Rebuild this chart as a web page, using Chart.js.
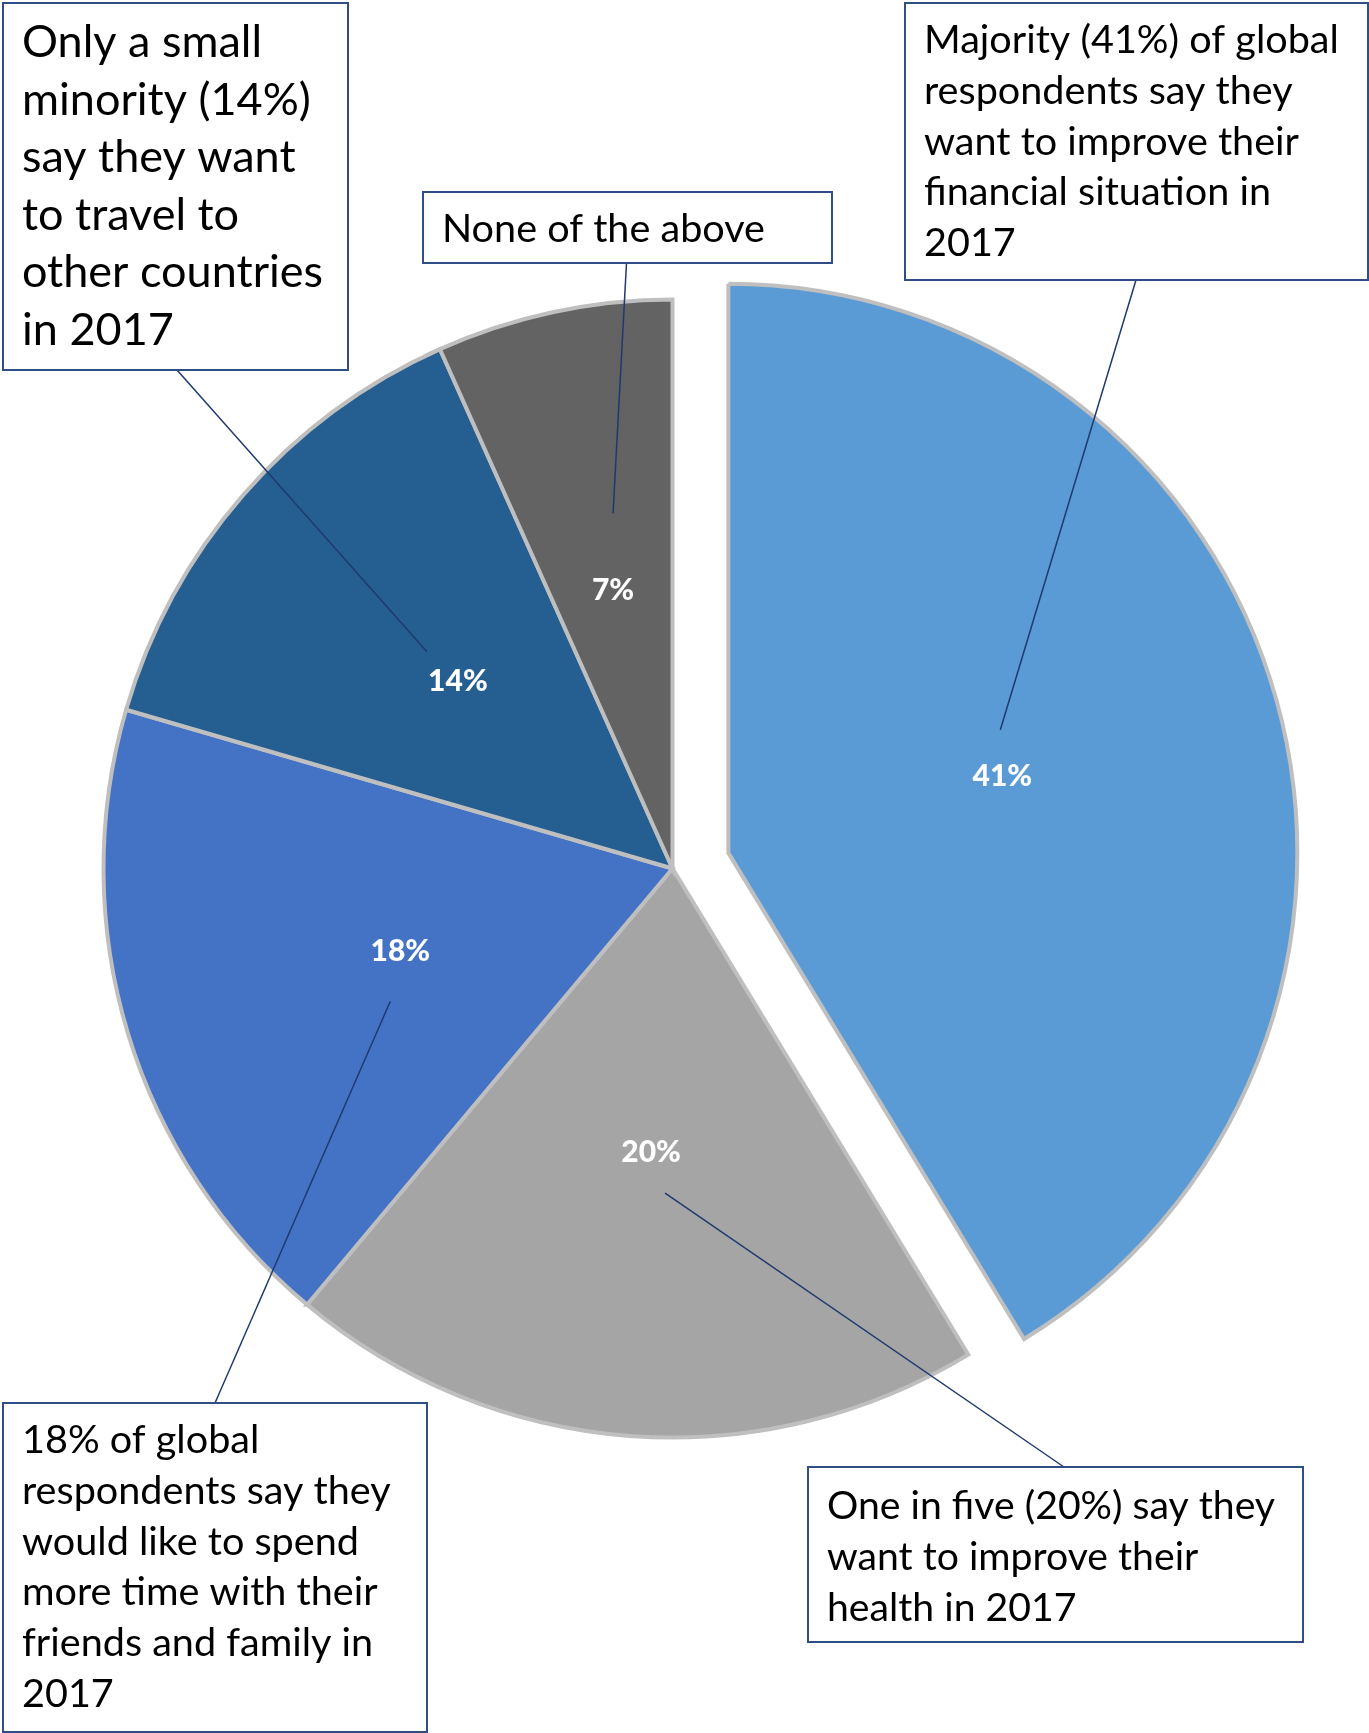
<!DOCTYPE html>
<html>
<head>
<meta charset="utf-8">
<script src="https://cdn.jsdelivr.net/npm/chart.js@4.4.0/dist/chart.umd.min.js"></script>
<style>
  html, body { margin: 0; padding: 0; background: #fff; }
</style>
</head>
<body>
<canvas id="resolutionChart" width="1369" height="1733"></canvas>
<script>
// Resolusi 2017 - share of global respondents
const categories = [
  "Improve financial situation",
  "Improve health",
  "Spend more time with friends and family",
  "Travel to other countries",
  "None of the above",
];
const shares = [41.3, 19.8, 18.4, 13.8, 6.7];
const sliceColors = ["#5B9BD5", "#A5A5A5", "#4472C4", "#255E91", "#636363"];
const calloutTexts = [
  ["Majority (41%) of global", "respondents say they", "want to improve their", "financial situation in", "2017"],
  ["One in five (20%) say they", "want to improve their", "health in 2017"],
  ["18% of global", "respondents say they", "would like to spend", "more time with their", "friends and family in", "2017"],
  ["Only a small", "minority (14%)", "say they want", "to travel to", "other countries", "in 2017"],
  ["None of the above"],
];

// box layout, same order as the slices
const boxes = [
  { x: 905, y: 3, w: 463, h: 277, pad: 19, first: 53, lh: 50.8, size: 39.6, ax: 1136, ay: 280, dx: -2, dy: -46 },
  { x: 808, y: 1467, w: 495, h: 175, pad: 19, first: 1519, lh: 50.8, size: 39.2, ax: 1064, ay: 1467, dx: 14, dy: 41 },
  { x: 3, y: 1403, w: 424, h: 329, pad: 19, first: 1453, lh: 50.8, size: 39.6, ax: 215, ay: 1403, dx: -10, dy: 50 },
  { x: 3, y: 3, w: 345, h: 367, pad: 19, first: 57, lh: 57.5, size: 45, ax: 177, ay: 370, dx: -31, dy: -30 },
  { x: 423, y: 192, w: 409, h: 71, pad: 19, first: 242, lh: 50.8, size: 39.6, ax: 626.5, ay: 263, dx: 0, dy: -77 },
];

const explodeSlice = {
  id: "explodeSlice",
  afterUpdate(chart) {
    const arc = chart.getDatasetMeta(0).data[0];
    const mid = (arc.startAngle + arc.endAngle) / 2;
    arc.x += Math.cos(mid) * 58;
    arc.y += Math.sin(mid) * 58;
  },
};

const callouts = {
  id: "callouts",
  afterDatasetsDraw(chart) {
    const ctx = chart.ctx;
    const arcs = chart.getDatasetMeta(0).data;
    ctx.save();
    // leader lines
    ctx.strokeStyle = "#1F3A6E";
    ctx.lineWidth = 1.5;
    arcs.forEach((arc, i) => {
      const p = arc.getCenterPoint();
      const b = boxes[i];
      ctx.beginPath();
      ctx.moveTo(b.ax, b.ay);
      ctx.lineTo(p.x + b.dx, p.y + b.dy);
      ctx.stroke();
    });
    // percentage labels
    ctx.fillStyle = "#fff";
    ctx.font = "900 30px Lato";
    ctx.textAlign = "center";
    ctx.textBaseline = "middle";
    arcs.forEach((arc, i) => {
      const p = arc.getCenterPoint();
      ctx.fillText(Math.round(shares[i]) + "%", p.x, p.y);
    });
    // callout boxes
    ctx.textAlign = "left";
    ctx.textBaseline = "alphabetic";
    boxes.forEach((b, i) => {
      ctx.fillStyle = "#fff";
      ctx.fillRect(b.x, b.y, b.w, b.h);
      ctx.strokeStyle = "#2F4E85";
      ctx.lineWidth = 2;
      ctx.strokeRect(b.x, b.y, b.w, b.h);
      ctx.fillStyle = "#000";
      ctx.font = b.size + "px Lato";
      calloutTexts[i].forEach((line, k) => {
        ctx.fillText(line, b.x + b.pad, b.first + k * b.lh);
      });
    });
    ctx.restore();
  },
};

new Chart(document.getElementById("resolutionChart"), {
  type: "pie",
  data: {
    labels: categories,
    datasets: [
      {
        data: shares,
        backgroundColor: sliceColors,
        borderColor: "#BFBFBF",
        borderWidth: 4,
        borderJoinStyle: "miter",
      },
    ],
  },
  options: {
    responsive: false,
    animation: false,
    events: [],
    radius: 569,
    layout: { padding: { top: 4, right: 24 } },
    plugins: { legend: { display: false }, tooltip: { enabled: false } },
  },
  plugins: [explodeSlice, callouts],
});
</script>
</body>
</html>
